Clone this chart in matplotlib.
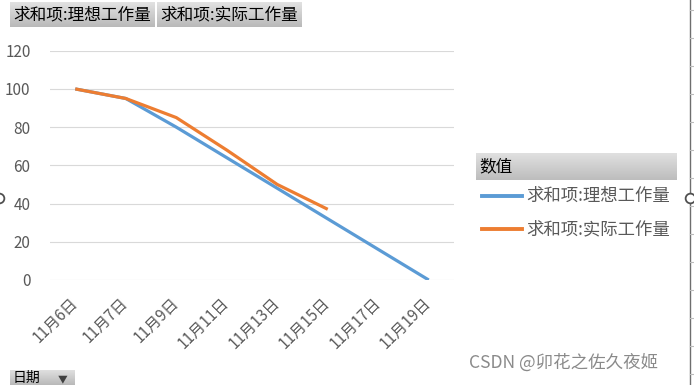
import numpy as np
import matplotlib
matplotlib.use("Agg")
import matplotlib.pyplot as plt
from matplotlib.lines import Line2D

plt.rcParams['font.family'] = ['Noto Sans CJK SC', 'DejaVu Sans']

categories = ["11月6日", "11月7日", "11月9日", "11月11日", "11月13日", "11月15日", "11月17日", "11月19日"]
ideal = [100, 95, 80, 64, 48, 32, 16, 0]
actual = [100, 95, 85, 68, 50, 37]
series_names = ["求和项:理想工作量", "求和项:实际工作量"]
yticks = [0, 20, 40, 60, 80, 100, 120]

W, H = 694, 385
fig = plt.figure(figsize=(W / 100, H / 100), dpi=100)
fig.patch.set_facecolor("white")

def fx(px):
    return px / W

def fy(py):
    return 1 - py / H

blue = "#5B9BD5"
orange = "#ED7D31"

ax = fig.add_axes([fx(50), fy(280), fx(454) - fx(50), fy(50.7) - fy(280)])
x = np.arange(len(categories))
ax.plot(x, ideal, color=blue, lw=2.3, solid_capstyle="butt", zorder=3)
ax.plot(x[:len(actual)], actual, color=orange, lw=2.3, solid_capstyle="butt", zorder=4)
ax.set_xlim(-0.5, len(categories) - 0.5)
ax.set_ylim(0, 120)
ax.set_yticks(yticks)
ax.set_yticklabels([str(v) for v in yticks])
ax.grid(axis="y", color="#D9D9D9", lw=0.8)
ax.set_axisbelow(True)
for s in ax.spines.values():
    s.set_visible(False)
ax.tick_params(axis="both", length=0, colors="#595959", labelsize=11)
ax.tick_params(axis="y", pad=14)
ax.set_xticks(x)
ax.set_xticklabels(categories, rotation=45, ha="right", va="center", rotation_mode="anchor")
ax.tick_params(axis="x", pad=15)

def grad_box(x0, y0, x1, y1, top="#E2E2E2", bot="#B9B9B9"):
    gax = fig.add_axes([fx(x0), fy(y1), fx(x1) - fx(x0), fy(y0) - fy(y1)])
    c0 = np.array(matplotlib.colors.to_rgb(top))
    c1 = np.array(matplotlib.colors.to_rgb(bot))
    t = np.linspace(0, 1, 50)[:, None]
    img = (c0[None, :] * (1 - t) + c1[None, :] * t)[:, None, :]
    gax.imshow(img, aspect="auto", extent=[0, 1, 0, 1])
    gax.set_axis_off()
    return gax

# top field buttons
for (x0, x1), name in zip([(10, 155), (157, 302)], series_names):
    grad_box(x0, 2, x1, 27)
    fig.text(fx(x0 + 3), fy(15), name, fontsize=12, color="black", va="center", ha="left")

# legend
grad_box(476, 153, 677, 180, top="#E0E0E0", bot="#BDBDBD")
fig.text(fx(479), fy(167), "数值", fontsize=12, color="black", va="center", ha="left")
for yy, name, c in [(196, series_names[0], blue), (229, series_names[1], orange)]:
    fig.add_artist(Line2D([fx(482), fx(522)], [fy(yy), fy(yy)], color=c, lw=2.8, transform=fig.transFigure))
    fig.text(fx(526), fy(yy), name, fontsize=12.5, color="#595959", va="center", ha="left")

# bottom-left field button
grad_box(10, 370, 75, 385)
fig.text(fx(13), fy(378), "日期", fontsize=10, color="black", va="center", ha="left")
fig.text(fx(58), fy(379), "▼", fontsize=7, color="#404040", va="center", ha="left")

# right edge selection border and handles
fig.add_artist(Line2D([fx(690), fx(690)], [0, 1], color="#6E6E6E", lw=1.0, transform=fig.transFigure))
for yy in range(10, 385, 28):
    fig.add_artist(Line2D([fx(690), fx(694)], [fy(yy), fy(yy)], color="#BBBBBB", lw=0.8, transform=fig.transFigure))
fig.add_artist(Line2D([fx(690)], [fy(198)], marker="o", markersize=7, markerfacecolor="white",
                      markeredgecolor="#505050", markeredgewidth=1.3, transform=fig.transFigure))
fig.add_artist(Line2D([fx(-1)], [fy(198)], marker="o", markersize=7, markerfacecolor="white",
                      markeredgecolor="#505050", markeredgewidth=1.3, transform=fig.transFigure))

# watermark
fig.text(fx(469), fy(363), "CSDN @卯花之佐久夜姬", fontsize=12.6, color="#8A8A8A", va="center", ha="left")

fig.savefig("out.png", dpi=100)
